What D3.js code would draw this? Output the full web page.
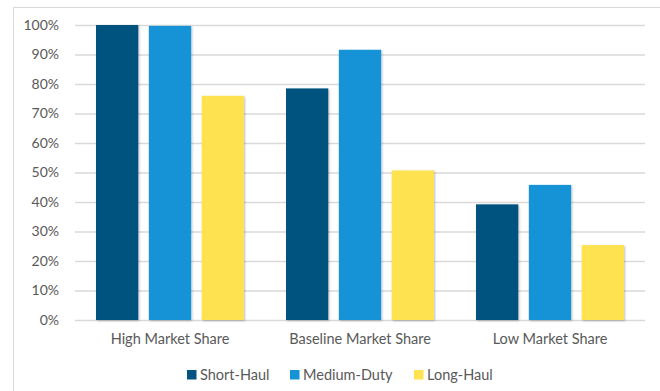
<!DOCTYPE html>
<html>
<head>
<meta charset="utf-8">
<script src="https://cdn.jsdelivr.net/npm/d3@7"></script>
<style>
  body { margin: 0; background: #fff; }
  text { font-family: Lato, "Open Sans", sans-serif; fill: #595959; }
</style>
</head>
<body>
<div id="chart"></div>
<script>
// data
const scenarios = ["High Market Share", "Baseline Market Share", "Low Market Share"];
const series = ["Short-Haul", "Medium-Duty", "Long-Haul"];
const shortHaul = [1.0, 0.785, 0.392];
const mediumDuty = [0.997, 0.916, 0.458];
const longHaul = [0.76, 0.507, 0.254];
const yTicks = [0, 0.1, 0.2, 0.3, 0.4, 0.5, 0.6, 0.7, 0.8, 0.9, 1.0];
const colors = ["#02537f", "#1593d6", "#ffe24f"];

const values = [shortHaul, mediumDuty, longHaul];

const W = 660, H = 391;
const svg = d3.select("#chart").append("svg")
  .attr("width", W)
  .attr("height", H);

// drop shadow like the original bars
const defs = svg.append("defs");
const f = defs.append("filter").attr("id", "shadow")
  .attr("x", "-10%").attr("y", "-10%").attr("width", "130%").attr("height", "130%");
f.append("feDropShadow").attr("dx", 1).attr("dy", 1).attr("stdDeviation", 1)
  .attr("flood-color", "#000").attr("flood-opacity", 0.25);

// chart border (extends past the right and bottom edges)
svg.append("rect")
  .attr("x", 13.5).attr("y", 7.5)
  .attr("width", 700).attr("height", 500)
  .attr("fill", "none")
  .attr("stroke", "#d9d9d9")
  .attr("stroke-width", 1);

const plotLeft = 75, plotRight = 645, plotTop = 25, plotBottom = 320;

let x0 = d3.scaleBand().domain(scenarios).range([plotLeft, plotRight]).padding(0);
let x1 = d3.scaleBand().domain(series).range([21, x0.bandwidth() - 21]).paddingInner(0.2).paddingOuter(0);
let y = d3.scaleLinear().domain([0, 1]).range([plotBottom, plotTop]);

// gridlines + y labels
let yAxis = svg.append("g")
  .attr("transform", "translate(" + plotLeft + ",0)")
  .call(d3.axisLeft(y).tickValues(yTicks).tickFormat(d3.format(".0%"))
    .tickSize(-(plotRight - plotLeft)).tickPadding(16));
yAxis.select(".domain").remove();
yAxis.selectAll("line").attr("stroke", "#d9d9d9").attr("stroke-width", 1.3);
yAxis.selectAll("text").style("font-size", "14px").attr("fill", "#595959");

// bars
let groups = svg.append("g")
  .selectAll("g")
  .data(scenarios)
  .enter()
  .append("g")
  .attr("transform", (d) => "translate(" + x0(d) + ",0)");

groups.selectAll("rect")
  .data((d, i) => series.map((s, j) => ({ s: s, v: values[j][i], c: colors[j] })))
  .enter()
  .append("rect")
  .attr("x", (d) => x1(d.s))
  .attr("y", (d) => y(d.v))
  .attr("width", x1.bandwidth())
  .attr("height", (d) => y(0) - y(d.v))
  .attr("fill", (d) => d.c)
  .attr("filter", "url(#shadow)");

// category labels
let xAxis = svg.append("g")
  .attr("transform", "translate(0," + plotBottom + ")")
  .call(d3.axisBottom(x0).tickSize(0).tickPadding(14));
xAxis.select(".domain").remove();
xAxis.selectAll("text").style("font-size", "14.5px").attr("fill", "#595959");

// legend
const legendX = [187, 290, 414];
let legend = svg.append("g")
  .selectAll("g")
  .data(series)
  .enter()
  .append("g")
  .attr("transform", (d, i) => "translate(" + legendX[i] + ",370)");
legend.append("rect")
  .attr("width", 9.5).attr("height", 9.5)
  .attr("fill", (d, i) => colors[i]);
legend.append("text")
  .attr("x", 13)
  .attr("y", 5)
  .attr("dy", "0.35em")
  .style("font-size", "14.5px")
  .text((d) => d);
</script>
</body>
</html>
